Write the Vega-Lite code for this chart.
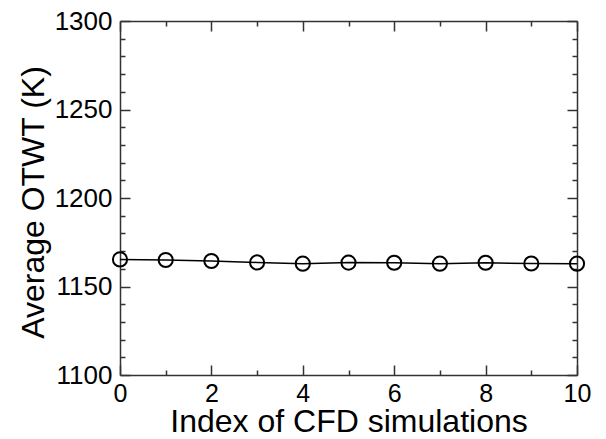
{
  "$schema": "https://vega.github.io/schema/vega-lite/v6.json",
  "autosize": "none",
  "width": 457,
  "height": 354,
  "padding": {"left": 120, "top": 21, "right": 29, "bottom": 64},
  "background": "white",
  "config": {
    "view": {"stroke": null},
    "font": "Liberation Sans",
    "axis": {"domainColor": "#333", "domainWidth": 1.5, "tickColor": "#333", "tickWidth": 1.5, "grid": false, "labelFont": "Liberation Sans", "titleFont": "Liberation Sans", "labelColor": "black", "titleColor": "black", "titleFontWeight": "normal"}
  },
  "data": {
    "values": [
      {"run": 0, "otwt": 1165.3},
      {"run": 1, "otwt": 1165.0},
      {"run": 2, "otwt": 1164.4},
      {"run": 3, "otwt": 1163.6},
      {"run": 4, "otwt": 1162.9},
      {"run": 5, "otwt": 1163.5},
      {"run": 6, "otwt": 1163.4},
      {"run": 7, "otwt": 1162.9},
      {"run": 8, "otwt": 1163.4},
      {"run": 9, "otwt": 1163.0},
      {"run": 10, "otwt": 1162.9}
    ]
  },
  "resolve": {"axis": {"x": "independent", "y": "independent"}},
  "layer": [
    {
      "mark": {"type": "line", "color": "black", "strokeWidth": 1.5},
      "encoding": {
        "x": {"field": "run", "type": "quantitative", "scale": {"domain": [0, 10], "nice": false, "zero": false},
          "axis": {"orient": "bottom", "values": [0, 2, 4, 6, 8, 10], "format": "d", "ticks": false, "labelFontSize": 25, "labelPadding": 6, "labelFlush": false,
            "title": "Index of CFD simulations", "titleFontSize": 32, "titleBaseline": "alphabetic", "titleY": 56, "titleX": 228.5, "titleAnchor": "middle"}},
        "y": {"field": "otwt", "type": "quantitative", "scale": {"domain": [1100, 1300], "nice": false, "zero": false},
          "axis": {"orient": "left", "values": [1100, 1150, 1200, 1250, 1300], "format": "d", "ticks": false, "labelFontSize": 26, "labelPadding": 8, "labelFlush": false,
            "title": "Average OTWT (K)", "titleFontSize": 32, "titleBaseline": "alphabetic", "titleX": -77, "titleY": 181, "titleAnchor": "middle", "titleAngle": -90}}
      }
    },
    {
      "mark": {"type": "point", "shape": "circle", "filled": false, "stroke": "black", "strokeWidth": 2, "size": 200, "opacity": 1},
      "encoding": {
        "x": {"field": "run", "type": "quantitative", "scale": {"domain": [0, 10], "nice": false, "zero": false},
          "axis": {"orient": "top", "offset": -354, "domain": false, "labels": false, "title": null,
            "values": [0, 1, 2, 3, 4, 5, 6, 7, 8, 9, 10],
            "tickSize": {"condition": {"test": "datum.value % 2 === 0", "value": 10}, "value": 5}}},
        "y": {"field": "otwt", "type": "quantitative", "scale": {"domain": [1100, 1300], "nice": false, "zero": false},
          "axis": {"orient": "right", "offset": -457, "domain": false, "labels": false, "title": null,
            "values": [1100, 1110, 1120, 1130, 1140, 1150, 1160, 1170, 1180, 1190, 1200, 1210, 1220, 1230, 1240, 1250, 1260, 1270, 1280, 1290, 1300],
            "tickSize": {"condition": {"test": "datum.value % 50 === 0", "value": 10}, "value": 5}}}
      }
    },
    {
      "mark": {"type": "point", "opacity": 0},
      "encoding": {
        "x": {"field": "run", "type": "quantitative", "scale": {"domain": [0, 10], "nice": false, "zero": false},
          "axis": {"orient": "bottom", "offset": -354, "domain": true, "labels": false, "title": null,
            "values": [0, 1, 2, 3, 4, 5, 6, 7, 8, 9, 10],
            "tickSize": {"condition": {"test": "datum.value % 2 === 0", "value": 10}, "value": 5}}},
        "y": {"field": "otwt", "type": "quantitative", "scale": {"domain": [1100, 1300], "nice": false, "zero": false},
          "axis": {"orient": "left", "offset": -457, "domain": true, "labels": false, "title": null,
            "values": [1100, 1110, 1120, 1130, 1140, 1150, 1160, 1170, 1180, 1190, 1200, 1210, 1220, 1230, 1240, 1250, 1260, 1270, 1280, 1290, 1300],
            "tickSize": {"condition": {"test": "datum.value % 50 === 0", "value": 10}, "value": 5}}}
      }
    }
  ]
}
